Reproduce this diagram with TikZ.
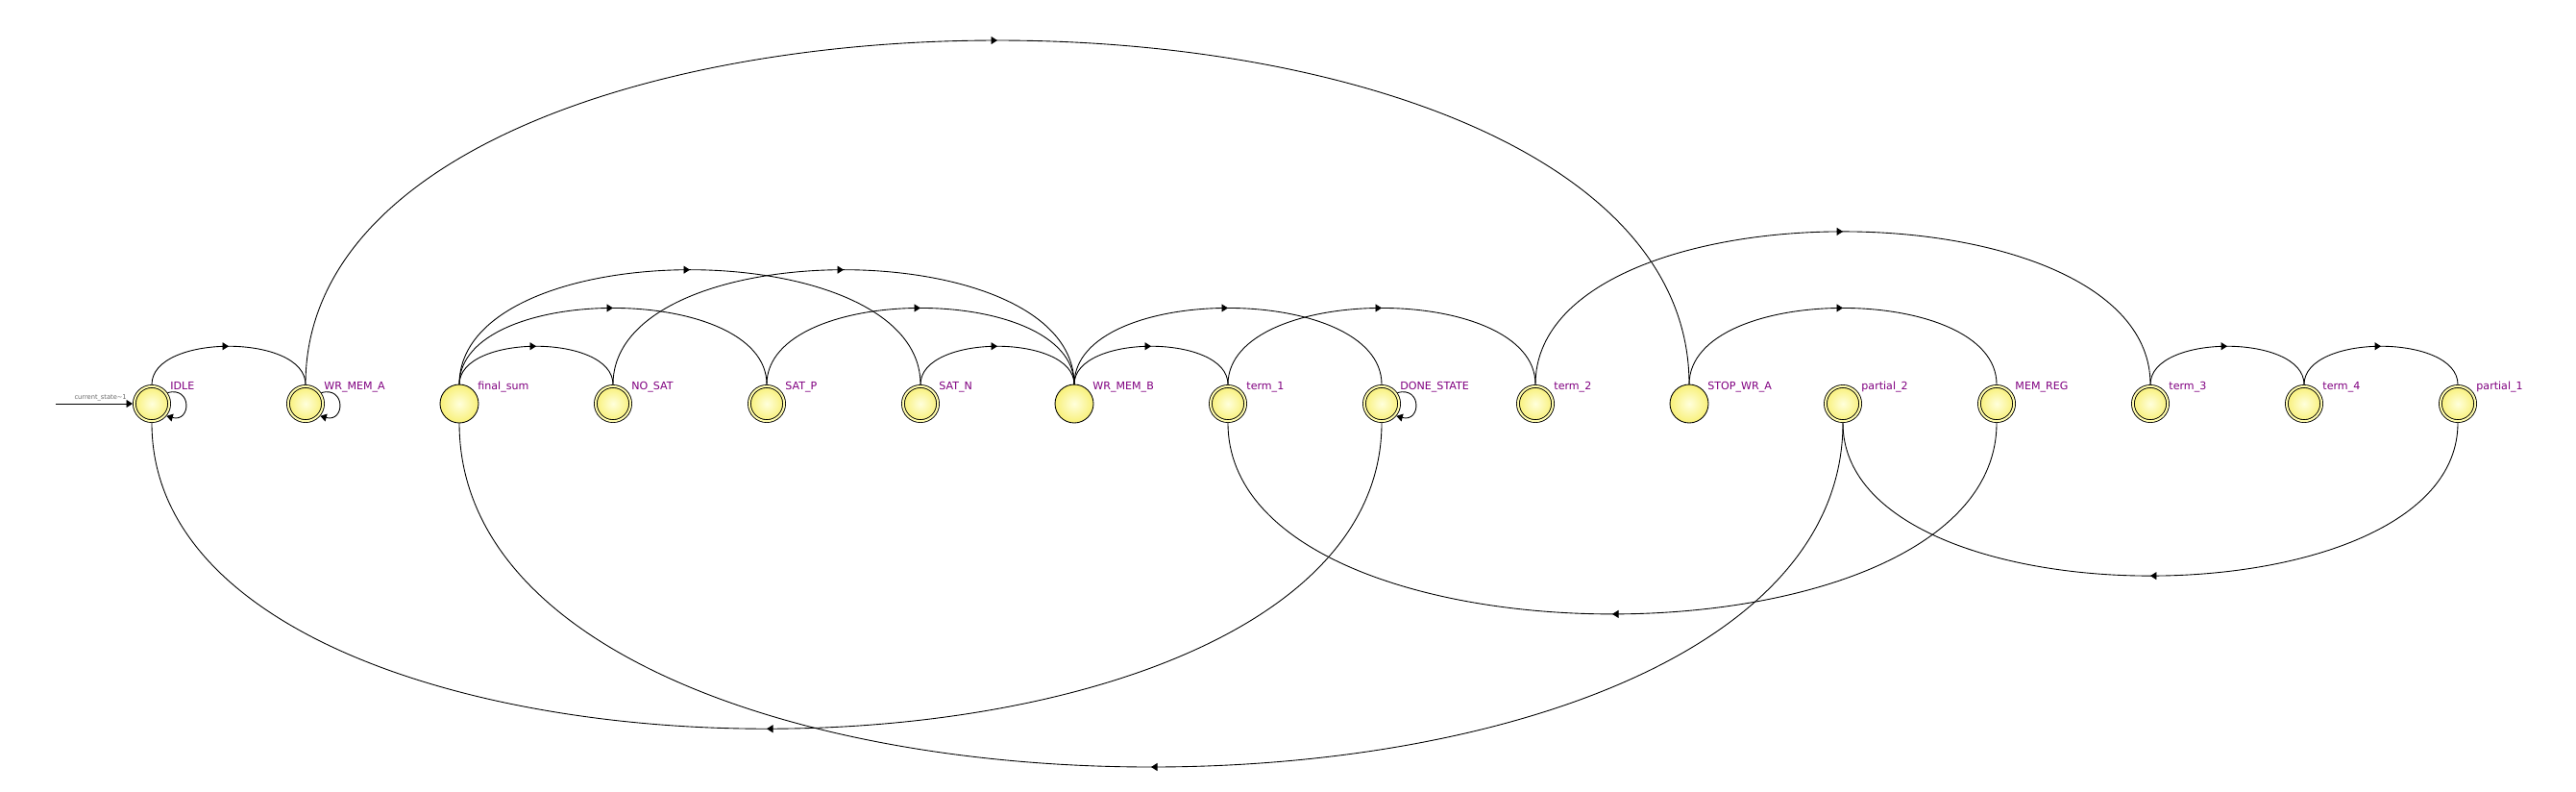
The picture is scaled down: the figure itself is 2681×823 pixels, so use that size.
\documentclass[tikz,border=0pt]{standalone}
\usepackage{fontspec}
\setmainfont{DejaVu Sans}
\usepackage{tikz}
\usetikzlibrary{arrows.meta}
\usetikzlibrary{decorations.markings}

\definecolor{stateout}{RGB}{248,240,120}
\definecolor{statein}{RGB}{255,255,220}
\definecolor{statering}{RGB}{255,252,175}
\definecolor{lblpurple}{RGB}{128,0,128}

\begin{document}
\begin{tikzpicture}[x=0.02cm,y=-0.02cm,line width=0.5pt,
    tip/.tip={Triangle[length=0.13cm,width=0.16cm]},
    fsm/.style={circle,draw,inner sep=0pt,minimum size=0.8cm,outer sep=0pt,
      inner color=statein,outer color=stateout},
    fsmfinal/.style={fsm,double=statering,double distance=0.04cm,
      minimum size=0.724cm,outer sep=0.038cm},
    statelbl/.style={anchor=base west,inner sep=0pt,xshift=0.38cm,yshift=-0.11cm,
      font=\fontsize{6.3}{7}\selectfont,text=lblpurple},
    midarrow/.style={postaction={decorate,decoration={markings,
      mark=at position 0.5 with {\arrow{tip}}}}},
    fwd/.style={midarrow,out=90,in=90,looseness=0.85},
    bwd/.style={midarrow,out=-90,in=-90,looseness=0.85},
    selfloop/.style={-tip,out=15,in=-15,looseness=2.8}]
    \useasboundingbox (0,0) rectangle (2681,823);
    % states
    \node[fsmfinal,label={[statelbl]90:IDLE}] (IDLE) at (158,420) {};
    \node[fsmfinal,label={[statelbl]90:WR\_MEM\_A}] (WRMEMA) at (318,420) {};
    \node[fsm,label={[statelbl]90:final\_sum}] (FINALSUM) at (478,420) {};
    \node[fsmfinal,label={[statelbl]90:NO\_SAT}] (NOSAT) at (638,420) {};
    \node[fsmfinal,label={[statelbl]90:SAT\_P}] (SATP) at (798,420) {};
    \node[fsmfinal,label={[statelbl]90:SAT\_N}] (SATN) at (958,420) {};
    \node[fsm,label={[statelbl]90:WR\_MEM\_B}] (WRMEMB) at (1118,420) {};
    \node[fsmfinal,label={[statelbl]90:term\_1}] (TERM1) at (1278,420) {};
    \node[fsmfinal,label={[statelbl]90:DONE\_STATE}] (DONE) at (1438,420) {};
    \node[fsmfinal,label={[statelbl]90:term\_2}] (TERM2) at (1598,420) {};
    \node[fsm,label={[statelbl]90:STOP\_WR\_A}] (STOPWRA) at (1758,420) {};
    \node[fsmfinal,label={[statelbl]90:partial\_2}] (PARTIAL2) at (1918,420) {};
    \node[fsmfinal,label={[statelbl]90:MEM\_REG}] (MEMREG) at (2078,420) {};
    \node[fsmfinal,label={[statelbl]90:term\_3}] (TERM3) at (2238,420) {};
    \node[fsmfinal,label={[statelbl]90:term\_4}] (TERM4) at (2398,420) {};
    \node[fsmfinal,label={[statelbl]90:partial\_1}] (PARTIAL1) at (2558,420) {};
    %
    \coordinate (reset) at (58,420);
    \draw[-tip] (reset) -- (IDLE.west)
      node[pos=0.96,anchor=south east,inner sep=1.5pt,
        font=\fontsize{3.8}{4}\selectfont,text=black!60] {current\_state\textasciitilde1};
    %
    \draw[fwd] (IDLE.north) to (WRMEMA.north);
    \draw[fwd] (WRMEMA.north) to (STOPWRA.north);
    \draw[fwd] (FINALSUM.north) to (NOSAT.north);
    \draw[fwd] (FINALSUM.north) to (SATP.north);
    \draw[fwd] (FINALSUM.north) to (SATN.north);
    \draw[fwd] (NOSAT.north) to (WRMEMB.north);
    \draw[fwd] (SATP.north) to (WRMEMB.north);
    \draw[fwd] (SATN.north) to (WRMEMB.north);
    \draw[fwd] (WRMEMB.north) to (TERM1.north);
    \draw[fwd] (WRMEMB.north) to (DONE.north);
    \draw[fwd] (TERM1.north) to (TERM2.north);
    \draw[fwd] (TERM2.north) to (TERM3.north);
    \draw[fwd] (STOPWRA.north) to (MEMREG.north);
    \draw[fwd] (TERM3.north) to (TERM4.north);
    \draw[fwd] (TERM4.north) to (PARTIAL1.north);
    %
    \draw[bwd] (DONE.south) to (IDLE.south);
    \draw[bwd] (PARTIAL2.south) to (FINALSUM.south);
    \draw[bwd] (MEMREG.south) to (TERM1.south);
    \draw[bwd] (PARTIAL1.south) to (PARTIAL2.south);
    %
    \draw[selfloop] (IDLE.35) to (IDLE.-40);
    \draw[selfloop] (WRMEMA.35) to (WRMEMA.-40);
    \draw[selfloop] (DONE.35) to (DONE.-40);
  \end{tikzpicture}
\end{document}
